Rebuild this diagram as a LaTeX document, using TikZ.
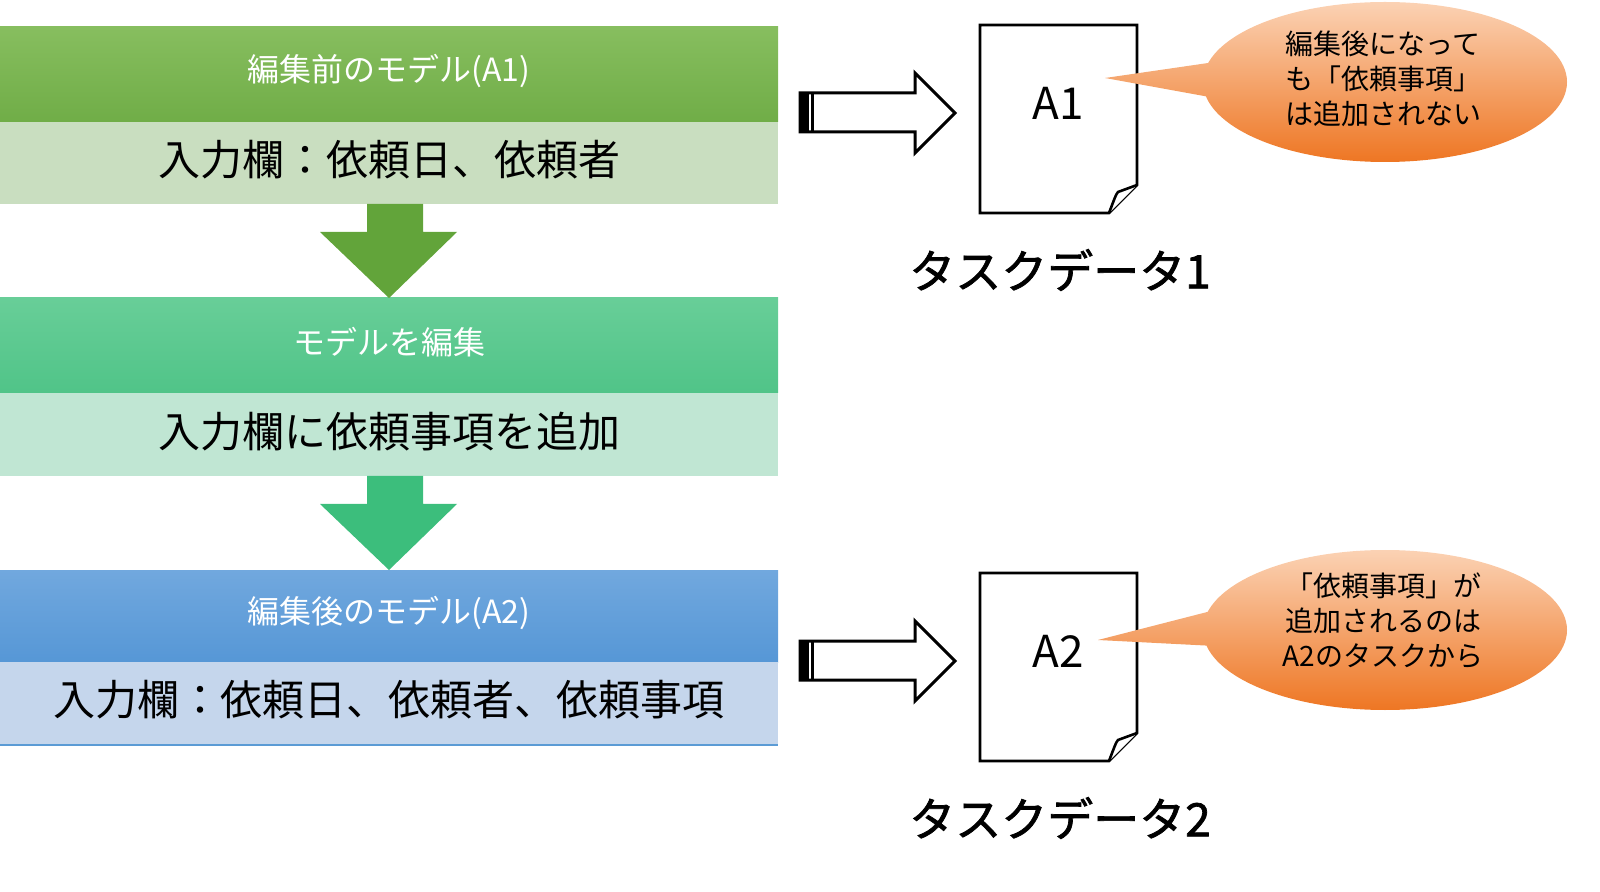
\documentclass[tikz,border=0pt]{standalone}
\usepackage{fontspec}
\setmainfont{Noto Sans CJK JP}
\definecolor{g1t}{RGB}{135,190,95}\definecolor{g1b}{RGB}{112,173,71}\definecolor{g1l}{RGB}{201,222,192}
\definecolor{g2t}{RGB}{104,206,152}\definecolor{g2b}{RGB}{80,196,136}\definecolor{g2l}{RGB}{192,230,211}
\definecolor{g3t}{RGB}{113,168,222}\definecolor{g3b}{RGB}{86,151,214}\definecolor{g3l}{RGB}{197,214,236}
\definecolor{bl}{RGB}{91,155,213}\definecolor{ar1}{RGB}{98,164,58}\definecolor{ar2}{RGB}{60,190,124}
\definecolor{ort}{RGB}{251,210,180}\definecolor{orb}{RGB}{238,118,35}
\begin{document}
\begin{tikzpicture}[x=0.5pt,y=-0.5pt,
  hdr/.style={text=white,font=\fontsize{16}{18}\selectfont},
  body/.style={text=black,font=\fontsize{21}{24}\selectfont},
  lbl/.style={font=\fontsize{23}{26}\selectfont\addfontfeature{FakeBold=1.5}},
  call/.style={align=center,font=\fontsize{14}{17.5}\selectfont},
  blk/.style={draw=black,line width=1.5pt,fill=white,line join=miter},
  doc/.style={draw=black,line width=1.3pt,fill=white}]
\shade[top color=g1t,bottom color=g1b] (0,27) rectangle (778,122);
\fill[g1l] (0,122) rectangle (778,204);
\shade[top color=g2t,bottom color=g2b] (0,298) rectangle (778,393);
\fill[g2l] (0,393) rectangle (778,476);
\shade[top color=g3t,bottom color=g3b] (0,570) rectangle (778,662);
\fill[g3l] (0,662) rectangle (778,745);
\draw[line width=1pt,bl] (0,745) -- (778,745);
\node[hdr] (h1) at (389,71) {編集前のモデル(A1)};
\node[body] (b1) at (389,160) {入力欄：依頼日、依頼者};
\node[hdr] (h2) at (389,342) {モデルを編集};
\node[body] (b2) at (389,432) {入力欄に依頼事項を追加};
\node[hdr] (h3) at (389,613) {編集後のモデル(A2)};
\node[body] (b3) at (389,700) {入力欄：依頼日、依頼者、依頼事項};
\fill[ar1] (367,204) -- (423,204) -- (423,232) -- (457,232) -- (389,298) -- (320,232) -- (367,232) -- cycle;
\fill[ar2] (367,476) -- (423,476) -- (423,504) -- (457,504) -- (389,570) -- (320,504) -- (367,504) -- cycle;
\foreach \dy/\n/\px/\py in {0/1/1105/78,548/2/1098/640}{
  \begin{scope}[yshift=-\dy*0.5pt]
  \draw[blk] (800,93) -- (915,93) -- (915,73) -- (955,113) -- (915,153) -- (915,132) -- (800,132) -- cycle;
  \fill[black] (800,93) rectangle (809,132);
  \fill[black] (811,93) rectangle (814,132);
  \draw[doc] (980,25) -- (1137,25) -- (1137,185) -- (1109,213) -- (980,213) -- cycle;
  \draw[doc] (1109,213) .. controls (1114,200) and (1116,194) .. (1118,192) -- (1137,185);
  \node[font=\fontsize{22}{24}\selectfont] (d\n) at (1058,103) {A\n};
  \node[lbl] (t\n) at (1060,270) {タスクデータ\n};
  \shade[top color=ort,bottom color=orb]
     (1385,82) ellipse [x radius=182,y radius=80]
     (\px,\py-\dy) -- (1215,62) -- (1215,98) -- cycle;
  \end{scope}}
\node[call] (c1) at (1383,79) {編集後になって\\も「依頼事項」\\は追加されない};
\node[call] (c2) at (1383,621) {「依頼事項」が\\追加されるのは\\A2のタスクから};
\pgfresetboundingbox
\useasboundingbox (0,0) rectangle (1600,892);
\end{tikzpicture}
\end{document}
